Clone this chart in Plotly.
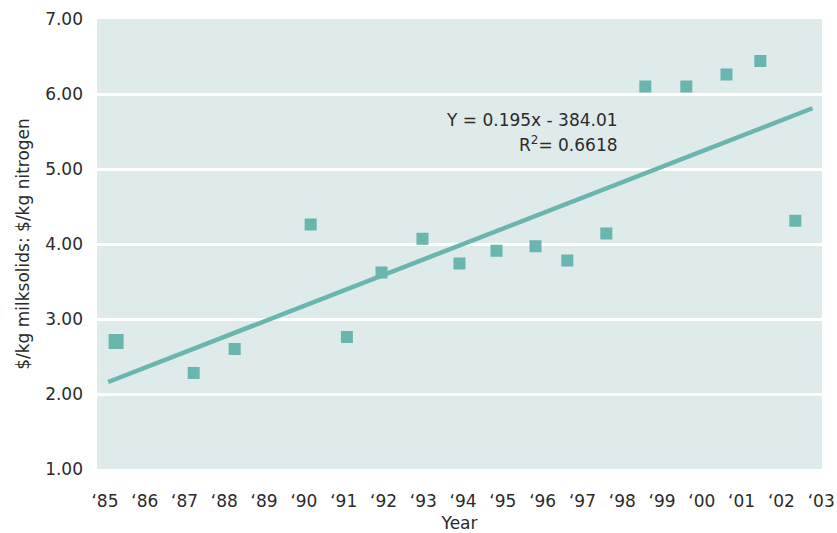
import plotly.graph_objects as go

# Ratio of milksolids price to nitrogen price by season
years = [1985.28, 1987.23, 1988.26, 1990.17, 1991.08, 1991.95, 1992.98, 1993.91,
         1994.84, 1995.82, 1996.62, 1997.60, 1998.58, 1999.61, 2000.62, 2001.47, 2002.35]
ratio = [2.70, 2.28, 2.60, 4.26, 2.76, 3.62, 4.07, 3.74,
         3.91, 3.97, 3.78, 4.14, 6.10, 6.10, 6.26, 6.44, 4.31]
marker_sizes = [15] + [12] * (len(years) - 1)

# Linear trend line end points
trend_years = [1985.08, 2002.78]
trend_values = [2.16, 5.81]

tick_years = list(range(1985, 2004))
tick_labels = ["\u2018" + str(y)[2:] for y in tick_years]
y_ticks = [1, 2, 3, 4, 5, 6, 7]
y_labels = ["%.2f" % v for v in y_ticks]

TEAL = "#6ab5ad"
FONT = "'DejaVu Sans', sans-serif"
TEXT = "#2b2b2b"

fig = go.Figure()
fig.add_trace(go.Scatter(
    x=trend_years, y=trend_values, mode="lines",
    line=dict(color=TEAL, width=4.5), hoverinfo="skip", showlegend=False,
))
fig.add_trace(go.Scatter(
    x=years, y=ratio, mode="markers",
    marker=dict(symbol="square", size=marker_sizes, color=TEAL, opacity=1,
                line=dict(width=0)),
    showlegend=False,
))

fig.add_annotation(
    x=1997.95, y=5.66, xref="x", yref="y", xanchor="right", yanchor="middle",
    text="Y = 0.195x - 384.01", showarrow=False,
    font=dict(family=FONT, size=17, color=TEXT),
)
fig.add_annotation(
    x=1997.95, y=5.33, xref="x", yref="y", xanchor="right", yanchor="middle",
    text="R<sup>2</sup>= 0.6618", showarrow=False,
    font=dict(family=FONT, size=17, color=TEXT),
)

fig.update_layout(
    width=837, height=533,
    margin=dict(l=97, r=15, t=19, b=64),
    paper_bgcolor="white",
    plot_bgcolor="#dfeaea",
    font=dict(family=FONT, size=17, color=TEXT),
    xaxis=dict(
        range=[1984.8, 2003.02], tickmode="array", tickvals=tick_years,
        ticktext=tick_labels, showgrid=False, zeroline=False, showline=False,
        ticks="", ticklen=0, automargin=False, ticklabelstandoff=20,
        title=dict(text="Year", font=dict(size=17), standoff=10),
        tickfont=dict(size=17),
    ),
    yaxis=dict(
        range=[1, 7], tickmode="array", tickvals=y_ticks, ticktext=y_labels,
        showgrid=True, gridcolor="white", gridwidth=2.5, zeroline=False,
        showline=False, ticks="", ticklen=0, automargin=False, ticklabelstandoff=13,
        title=dict(text="$/kg milksolids: $/kg nitrogen", font=dict(size=17), standoff=11),
        tickfont=dict(size=17),
    ),
)

fig.write_html("out.html")
